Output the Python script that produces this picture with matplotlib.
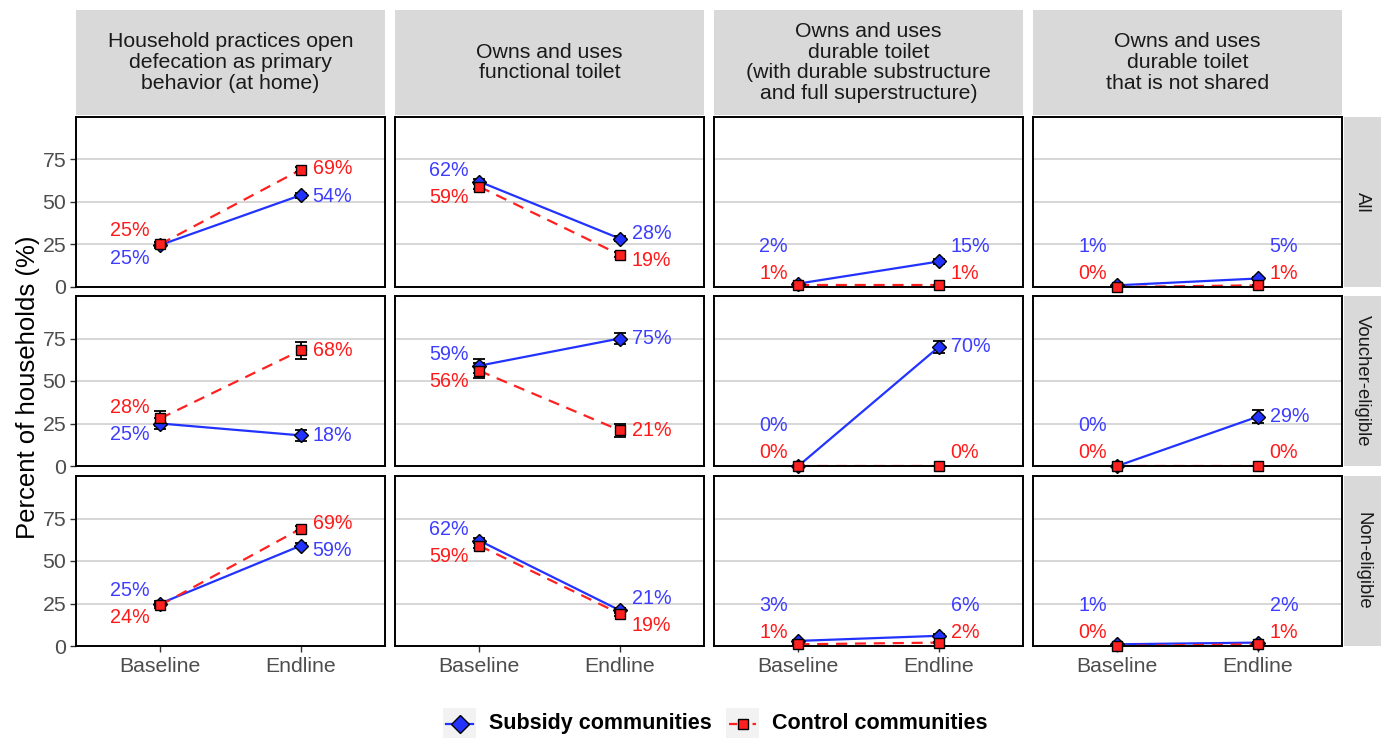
import matplotlib
matplotlib.use("Agg")
import matplotlib.pyplot as plt
from matplotlib.patches import Rectangle
from matplotlib.lines import Line2D

plt.rcParams['font.family'] = ['Liberation Sans', 'DejaVu Sans']

# ---- data -------------------------------------------------------------
outcomes = [
    "Household practices open\ndefecation as primary\nbehavior (at home)",
    "Owns and uses\nfunctional toilet",
    "Owns and uses\ndurable toilet\n(with durable substructure\nand full superstructure)",
    "Owns and uses\ndurable toilet\nthat is not shared",
]
groups = ["All", "Voucher-eligible", "Non-eligible"]
periods = ["Baseline", "Endline"]

# [baseline, endline] per outcome, percent of households
subsidy = {
    "All":              [[24.7, 54], [62, 28.5], [2, 15], [1, 5]],
    "Voucher-eligible": [[25, 18], [59, 75], [0, 70], [0, 29]],
    "Non-eligible":     [[25, 59], [62, 21], [3, 6], [1, 2]],
}
control = {
    "All":              [[25.2, 69], [59, 19], [1, 1], [0, 1]],
    "Voucher-eligible": [[28, 68], [56, 21], [0, 0], [0, 0]],
    "Non-eligible":     [[24, 69], [59, 19], [1, 2], [0, 1]],
}
# 95% CI half-widths
subsidy_err = {
    "All":              [[1.5, 1.5], [1.5, 1.5], [0.5, 1.2], [0.3, 0.8]],
    "Voucher-eligible": [[3.0, 3.0], [4.0, 3.5], [0, 3.5], [0, 3.8]],
    "Non-eligible":     [[1.5, 1.5], [1.5, 1.5], [0.6, 0.8], [0.3, 0.5]],
}
control_err = {
    "All":              [[1.5, 1.5], [1.5, 1.5], [0.3, 0.3], [0, 0.3]],
    "Voucher-eligible": [[4.5, 5.0], [4.5, 4.0], [0, 0], [0, 0]],
    "Non-eligible":     [[1.5, 1.5], [1.5, 1.5], [0.3, 0.5], [0, 0.3]],
}

BLUE = "#2233FF"
RED = "#FF2020"
BLUE_TXT = "#3D3DFF"
RED_TXT = "#FF1A1A"

W, H = 1384, 738
fig = plt.figure(figsize=(W / 100, H / 100), dpi=100)


def px_axes(x0, y0, x1, y1):
    return fig.add_axes([x0 / W, 1 - y1 / H, (x1 - x0) / W, (y1 - y0) / H])


def label_positions(a, b, min_sep=16.0, floor=7.7):
    """Place two value labels so they don't overlap (a above b on ties)."""
    hi_is_a = a >= b
    hi, lo = (a, b) if hi_is_a else (b, a)
    if hi - lo < min_sep:
        mid = (hi + lo) / 2
        hi, lo = mid + min_sep / 2, mid - min_sep / 2
    if lo < floor:
        lo = floor
        hi = max(hi, lo + min_sep)
    return (hi, lo) if hi_is_a else (lo, hi)


col_x = [76, 395, 714, 1033]
panel_w = 309
row_y = [117, 296, 476]
panel_h = 170
xs = [1, 2]

for r, g in enumerate(groups):
    for c in range(len(outcomes)):
        x0, y0 = col_x[c], row_y[r]
        ax = px_axes(x0, y0, x0 + panel_w, y0 + panel_h)
        ax.set_xlim(0.4, 2.6)
        ax.set_ylim(0, 100)
        ax.set_yticks([0, 25, 50, 75])
        ax.set_xticks(xs)
        ax.grid(axis="y", color="#D6D6D6", lw=1.4)
        ax.set_axisbelow(True)
        for s in ax.spines.values():
            s.set_linewidth(1.4)
            s.set_color("black")
        ax.tick_params(colors="#333333", labelcolor="#4D4D4D", length=4,
                       width=1, labelsize=15.3)
        if c == 0:
            ax.set_yticklabels(["0", "25", "50", "75"])
            ax.tick_params(axis="y", pad=3)
        else:
            ax.tick_params(axis="y", left=False, labelleft=False)
        if r == len(groups) - 1:
            ax.set_xticklabels(periods)
            ax.tick_params(axis="x", pad=4)
        else:
            ax.tick_params(axis="x", bottom=False, labelbottom=False)

        sv = subsidy[g][c]
        cv = control[g][c]
        se = subsidy_err[g][c]
        ce = control_err[g][c]

        ax.plot(xs, sv, color=BLUE, lw=1.6, zorder=2)
        ax.plot(xs, cv, color=RED, lw=1.6, dashes=(5, 3.5), zorder=2)
        ax.errorbar(xs, sv, yerr=se, fmt="none", ecolor="black",
                    elinewidth=1.3, capsize=4, capthick=1.3, zorder=3)
        ax.errorbar(xs, cv, yerr=ce, fmt="none", ecolor="black",
                    elinewidth=1.3, capsize=4, capthick=1.3, zorder=3)
        ax.plot(xs, sv, ls="none", marker="D", ms=7.5, mfc=BLUE,
                mec="black", mew=1.0, zorder=4, clip_on=False)
        ax.plot(xs, cv, ls="none", marker="s", ms=6.5, mfc=RED,
                mec="black", mew=1.0, zorder=5, clip_on=False)

        for i, xv in enumerate(xs):
            ys, yc = label_positions(sv[i], cv[i])
            if i == 0:
                tx, ha = xv - 0.075, "right"
            else:
                tx, ha = xv + 0.085, "left"
            ax.text(tx, ys, f"{sv[i]:.0f}%", color=BLUE_TXT, ha=ha,
                    va="center", fontsize=14.2, zorder=6)
            ax.text(tx, yc, f"{cv[i]:.0f}%", color=RED_TXT, ha=ha,
                    va="center", fontsize=14.2, zorder=6)

# column strips
for c, title in enumerate(outcomes):
    x0 = col_x[c]
    sax = px_axes(x0, 10, x0 + panel_w, 115)
    sax.set_facecolor("#D9D9D9")
    sax.set_xticks([])
    sax.set_yticks([])
    for s in sax.spines.values():
        s.set_visible(False)
    sax.text(0.5, 0.5, title, ha="center", va="center", fontsize=15.3,
             color="#1A1A1A", transform=sax.transAxes, linespacing=1.12)

# row strips
for r, g in enumerate(groups):
    y0 = row_y[r]
    sax = px_axes(1344, y0, 1381, y0 + panel_h)
    sax.set_facecolor("#D9D9D9")
    sax.set_xticks([])
    sax.set_yticks([])
    for s in sax.spines.values():
        s.set_visible(False)
    sax.text(0.5, 0.5, g, ha="center", va="center", fontsize=13.3,
             color="#1A1A1A", rotation=-90, transform=sax.transAxes)

fig.text(28 / W, 1 - 387 / H, "Percent of households (%)", rotation=90,
         ha="center", va="center", fontsize=18.5, color="black")

# legend
lax = fig.add_axes([0, 0, 1, 48 / H])
lax.set_xlim(0, W)
lax.set_ylim(H, H - 48)
lax.axis("off")
entries = [
    (443, "Subsidy communities", BLUE, "D", 9, "-"),
    (726, "Control communities", RED, "s", 7.5, "--"),
]
for kx, label, col, mk, ms, ls in entries:
    lax.add_patch(Rectangle((kx, 708), 33, 32, facecolor="#F2F2F2",
                            edgecolor="none"))
    lax.add_line(Line2D([kx + 3, kx + 30], [724, 724], color=col, lw=1.6,
                        ls=ls))
    lax.plot([kx + 16.5], [724], marker=mk, ms=ms, mfc=col, mec="black",
             mew=1.0, ls="none")
    lax.text(kx + 46, 724, label, ha="left", va="center", fontsize=15.5,
             fontweight="bold", color="black")

fig.savefig("out.png", dpi=100)
